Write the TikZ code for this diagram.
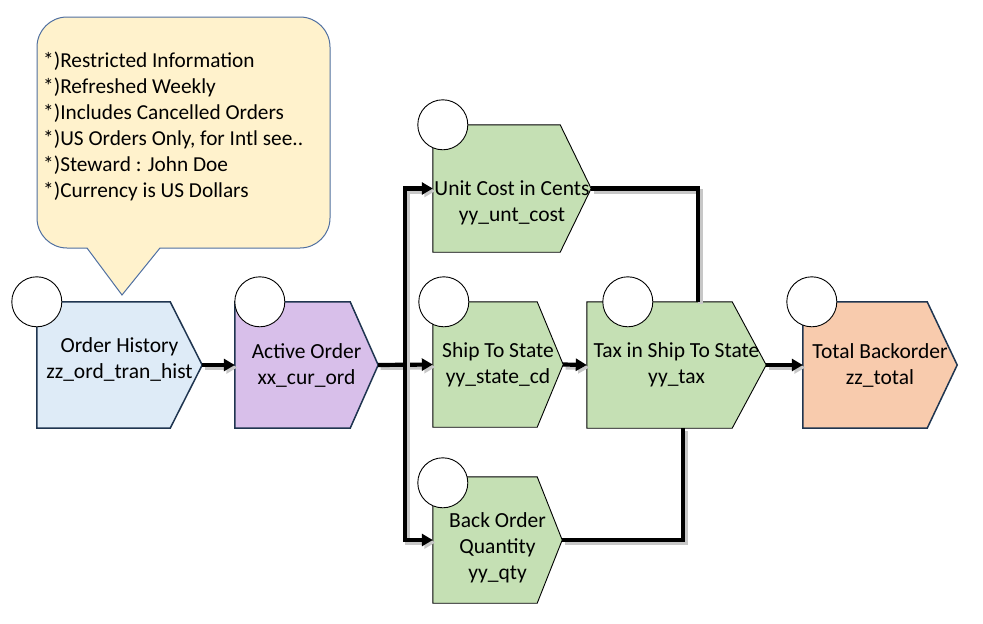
\documentclass[tikz,border=0pt]{standalone}
\usepackage{fontspec}
\setmainfont{Carlito}
\usetikzlibrary{arrows.meta, backgrounds}
\definecolor{hnavy}{HTML}{1F3550}
\definecolor{histfill}{HTML}{DEEBF7}
\definecolor{activefill}{HTML}{D8BFEA}
\definecolor{attrfill}{HTML}{C5E0B4}
\definecolor{totalfill}{HTML}{F8CBAD}
\definecolor{notefill}{HTML}{FFF2CC}
\definecolor{noteline}{HTML}{4F6FA0}
\newcommand{\shiftedtext}[2]{\raisebox{#1}[0pt][0pt]{\begin{tabular}{@{}c@{}}#2\end{tabular}}}
\tikzset{
	tnode/.style={minimum height=126pt, inner sep=0pt, align=center,
		font=\fontsize{21.5}{26}\selectfont},
	tmark/.style={circle, draw=black, fill=white, line width=0.9pt,
		minimum size=50pt, inner sep=0pt},
	tline/.style={line width=4.2pt, draw=black,
		preaction={draw=black!22, line width=5pt, transform canvas={shift={(2.5pt,-2.5pt)}}}},
	tarr/.style={tline, -{Triangle[length=11pt, width=12pt]}}
}

\begin{document}
\begin{tikzpicture}[x=1pt, y=-1pt]
	\useasboundingbox (0,0) rectangle (983,624);
	% callout
	\draw[draw=noteline, fill=notefill, line width=1pt, rounded corners=30pt]
		(37,17) rectangle (330,248);
	\fill[notefill] (87,247) -- (122,295) -- (160,247) -- cycle;
	\draw[draw=noteline, line width=1pt] (87,248) -- (122,295) -- (160,248);
	\node[font=\fontsize{21.3}{26}\selectfont, align=left, anchor=west, inner sep=0pt] (notes) at (43,126)
		{*)Restricted Information\\*)Refreshed Weekly\\*)Includes Cancelled Orders\\
		*)US Orders Only, for Intl see..\\*)Steward : John Doe\\*)Currency is US Dollars};

	\node[tnode, minimum width=165pt] (oh) at (119.5,365) {\shiftedtext{0pt}{Order History\\zz\_ord\_tran\_hist}};
	\node[tnode, minimum width=143pt] (ao) at (306.5,365) {Active Order\\xx\_cur\_ord};
	\node[tnode, minimum width=158pt, minimum height=127pt] (uc) at (512,188.5) {\shiftedtext{-19.5pt}{Unit Cost in Cents\\yy\_unt\_cost}};
	\node[tnode, minimum width=130pt, minimum height=125pt] (ss) at (498,364.5) {Ship To State\\yy\_state\_cd};
	\node[tnode, minimum width=129pt] (bo) at (497.5,540) {\shiftedtext{-13.5pt}{Back Order\\Quantity\\yy\_qty}};
	\node[tnode, minimum width=179pt] (tax) at (676.5,365) {Tax in Ship To State\\yy\_tax};
	\node[tnode, minimum width=154pt] (tot) at (880,365) {Total Backorder\\zz\_total};

	\begin{scope}[on background layer]
		\foreach \n/\t/\f/\d/\w in {oh/32/histfill/hnavy/1.5pt, ao/28/activefill/hnavy/1.5pt,
				uc/31/attrfill/black/0.9pt, ss/26/attrfill/black/0.9pt, bo/25/attrfill/black/0.9pt,
				tax/34/attrfill/black/0.9pt, tot/30/totalfill/hnavy/1.5pt}
			\draw[draw=\d, fill=\f, line width=\w] (\n.north west) -- ([xshift=-\t pt]\n.north east)
				-- (\n.east) -- ([xshift=-\t pt]\n.south east) -- (\n.south west) -- cycle;
	\end{scope}

	\node[tmark] (ohc) at (oh.north west) {};
	\node[tmark] (aoc) at ([xshift=25pt]ao.north west) {};
	\node[tmark] (ucc) at ([xshift=10pt]uc.north west) {};
	\node[tmark] (ssc) at ([xshift=11pt]ss.north west) {};
	\node[tmark] (boc) at ([xshift=10pt, yshift=-6pt]bo.north west) {};
	\node[tmark] (taxc) at ([xshift=41pt]tax.north west) {};
	\node[tmark] (totc) at ([xshift=9pt]tot.north west) {};

	\coordinate (fork) at (405,365);
	\draw[tarr] (oh.east) -- (ao.west);
	\draw[tarr] (ao.east) -- (ss.west);
	\draw[tarr] (fork) -- (fork |- uc.west) -- (uc.west);
	\draw[tarr] (fork) -- (fork |- bo.west) -- (bo.west);
	\draw[tline] (uc.east) -| ([xshift=21.5pt]tax.north);
	\draw[tline] (bo.east) -| ([xshift=6.5pt]tax.south);
	\draw[tarr] (ss.east) -- (tax.west);
	\draw[tarr] (tax.east) -- (tot.west);
\end{tikzpicture}
\end{document}
